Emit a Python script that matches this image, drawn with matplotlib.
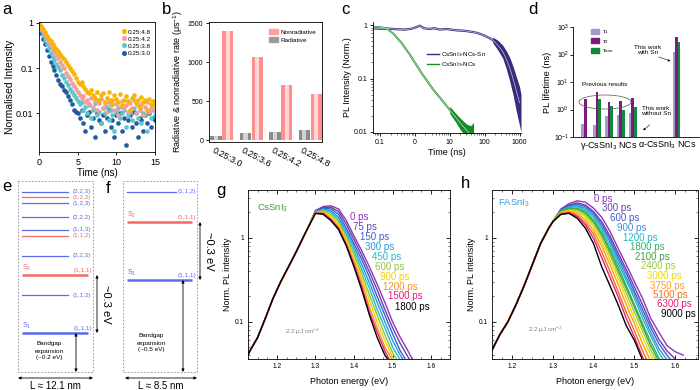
import numpy as np
import matplotlib
matplotlib.use("Agg")
import matplotlib.pyplot as plt
from matplotlib.patches import Ellipse, Patch, Rectangle
from matplotlib.lines import Line2D
from matplotlib.ticker import MultipleLocator, NullFormatter

plt.rcParams["font.family"] = ["Liberation Sans", "DejaVu Sans"]
plt.rcParams["mathtext.fontset"] = "custom"
plt.rcParams["mathtext.rm"] = "Liberation Sans"
plt.rcParams["mathtext.it"] = "Liberation Sans:italic"
plt.rcParams["mathtext.default"] = "regular"
plt.rcParams["axes.linewidth"] = 0.6
plt.rcParams["xtick.major.width"] = 0.6
plt.rcParams["ytick.major.width"] = 0.6
plt.rcParams["xtick.minor.width"] = 0.4
plt.rcParams["ytick.minor.width"] = 0.4

W, H = 700, 390

# ---------------- panel a: TRPL decays (scatter) ----------------
t_a = np.linspace(0, 15, 61)
a_labels = ["0.25:4.8", "0.25:4.2", "0.25:3.8", "0.25:3.0"]
a_colors = ["#f7b500", "#f59c9c", "#5cc6cc", "#1f5c9e"]
a_48 = [1.0, 0.85, 0.72, 0.62, 0.52, 0.45, 0.40, 0.35, 0.30, 0.27, 0.24, 0.21, 0.18, 0.16,
        0.14, 0.12, 0.10, 0.085, 0.075, 0.06, 0.05,
        0.045, 0.05, 0.04, 0.035, 0.03, 0.028, 0.033, 0.025, 0.022, 0.03, 0.02, 0.025, 0.028,
        0.018, 0.022, 0.03, 0.02, 0.016, 0.025, 0.021, 0.018, 0.027, 0.015, 0.02, 0.024, 0.019,
        0.012, 0.022, 0.026, 0.017, 0.02, 0.014, 0.023, 0.018, 0.02, 0.012, 0.021, 0.016, 0.019, 0.015]
a_42 = [0.95, 0.78, 0.64, 0.54, 0.45, 0.38, 0.32, 0.27, 0.23, 0.2, 0.17, 0.14, 0.12, 0.1,
        0.08, 0.068, 0.058, 0.048, 0.04, 0.034, 0.03,
        0.026, 0.022, 0.024, 0.018, 0.02, 0.016, 0.022, 0.014, 0.019, 0.012, 0.017, 0.021, 0.013,
        0.016, 0.011, 0.018, 0.015, 0.02, 0.012, 0.016, 0.009, 0.014, 0.019, 0.013, 0.015, 0.011,
        0.017, 0.013, 0.02, 0.01, 0.015, 0.012, 0.016, 0.009, 0.014, 0.018, 0.011, 0.013, 0.015, 0.012]
a_38 = [0.9, 0.7, 0.55, 0.44, 0.35, 0.28, 0.22, 0.18, 0.15, 0.125, 0.105, 0.09, 0.07, 0.06,
        0.05, 0.042, 0.035, 0.03, 0.025, 0.022, 0.019,
        0.016, 0.018, 0.012, 0.014, 0.01, 0.015, 0.008, 0.012, 0.017, 0.009, 0.011, 0.006, 0.013,
        0.01, 0.014, 0.007, 0.012, 0.009, 0.004, 0.011, 0.013, 0.008, 0.01, 0.012, 0.005, 0.009,
        0.011, 0.007, 0.013, 0.01, 0.008, 0.012, 0.006, 0.01, 0.009, 0.004, 0.011, 0.008, 0.012, 0.009]
a_30 = [0.8, 0.6, 0.45, 0.34, 0.25, 0.19, 0.14, 0.11, 0.09, 0.07, 0.054, 0.045, 0.04, 0.033,
        0.03, 0.024, 0.02, 0.016, 0.012, 0.011, 0.01,
        0.008, 0.012, 0.006, 0.004, 0.009, 0.011, 0.005, 0.008, 0.003, 0.01, 0.007, 0.006, 0.009,
        0.004, 0.008, 0.012, 0.005, 0.007, 0.003, 0.009, 0.006, 0.01, 0.004, 0.008, 0.002, 0.007,
        0.009, 0.005, 0.011, 0.006, 0.003, 0.008, 0.007, 0.004, 0.009, 0.006, 0.01, 0.005, 0.008, 0.007]

# ---------------- panel b: rates ----------------
b_cats = ["0.25:3.0", "0.25:3.6", "0.25:4.2", "0.25:4.8"]
b_nonrad = [1400, 1070, 705, 600]
b_rad = [55, 95, 110, 130]

# ---------------- panel c: PL decays ----------------
c_t_sn = [0.068, 0.1, 0.19, 0.3, 0.52, 0.8, 1.0, 1.4, 1.8, 2.6, 3.5, 5.2, 8, 16, 25, 43, 60,
          88, 120, 170, 240, 330, 420, 520, 650, 800, 1000]
c_i_sn = [0.87, 0.86, 0.86, 0.84, 0.83, 0.86, 0.9, 0.98, 0.88, 0.85, 0.88, 0.83, 0.85, 0.8,
          0.79, 0.75, 0.72, 0.66, 0.6, 0.53, 0.42, 0.32, 0.23, 0.16, 0.1, 0.06, 0.035]
c_tail_t = [170, 240, 330, 420, 520, 650, 800, 1000, 1100]
c_tail_hi = [0.6, 0.52, 0.42, 0.33, 0.25, 0.17, 0.11, 0.07, 0.05]
c_tail_lo = [0.47, 0.34, 0.24, 0.15, 0.09, 0.05, 0.025, 0.013, 0.01]
c_t_ns = [0.07, 0.089, 0.155, 0.24, 0.42, 0.72, 1.55, 3.3, 8.0, 19.3, 33.5, 45]
c_i_ns = [0.92, 0.93, 0.87, 0.70, 0.46, 0.28, 0.127, 0.063, 0.031, 0.015, 0.0099, 0.008]
c_gtail_t = [10, 15, 20, 30, 40, 48]
c_gtail_hi = [0.03, 0.022, 0.018, 0.014, 0.013, 0.015]
c_gtail_lo = [0.022, 0.015, 0.011, 0.008, 0.006, 0.006]

# ---------------- panel d: lifetimes ----------------
d_x = [0, 1, 2, 3, 4, 7.7]
d_tau1 = [0.3, 0.28, 0.6, 0.65, 0.75, 120]
d_tau2 = [2.5, 4.5, 1.9, 2.1, 2.7, 450]
d_tave = [np.nan, 2.5, 1.3, 0.95, 1.2, 280]

# ---------------- panels e, f: energy levels ----------------
e_y = [192, 197, 203, 217, 230, 236, 256, 275, 295, 333]
e_lbl = ["(2,2,3)", "(1,2,2)", "(1,2,3)", "(2,2,2)", "(1,1,3)", "(1,1,2)", "(2,2,3)",
         "(1,1,1)", "(1,1,2)", "(1,1,1)"]
e_red = [False, True, False, False, False, True, False, True, False, False]
e_state = ["", "", "", "", "", "", "", "S$_2$", "", "S$_1$"]
f_y = [192, 222, 280]
f_lbl = ["(1,1,2)", "(1,1,1)", "(1,1,1)"]
f_red = [False, True, False]
f_state = ["", "S$_2$", "S$_1$"]

# ---------------- panel g: CsSnI3 TA-PL spectra ----------------
g_rise_E = [1.125, 1.13, 1.15, 1.17, 1.19, 1.21, 1.23, 1.25, 1.27, 1.28]
g_rise_I = [0.04, 0.045, 0.065, 0.11, 0.19, 0.3, 0.45, 0.68, 1.05, 1.3]
g_fall_E = [1.30, 1.32, 1.34, 1.36, 1.38, 1.40, 1.42, 1.44, 1.46, 1.48, 1.50, 1.52, 1.54, 1.56]
g_delays = ["0 ps", "75 ps", "150 ps", "300 ps", "450 ps", "600 ps", "900 ps", "1200 ps",
            "1500 ps", "1800 ps"]
g_colors = ["#9333b8", "#6a3fa8", "#3d5fcf", "#2f96dc", "#1fbccc", "#8cc63f", "#f2d200",
            "#f7931e", "#ec1c79", "#000000"]
g_fall = [
    [2.10, 2.35, 2.40, 2.20, 1.60, 1.05, 0.70, 0.45, 0.28, 0.17, 0.10, 0.065, 0.045, 0.030],
    [2.10, 2.30, 2.30, 2.05, 1.45, 0.95, 0.62, 0.39, 0.24, 0.14, 0.085, 0.055, 0.038, 0.028],
    [2.05, 2.25, 2.20, 1.90, 1.30, 0.85, 0.55, 0.34, 0.20, 0.12, 0.072, 0.045, 0.032, 0.025],
    [2.05, 2.20, 2.10, 1.75, 1.20, 0.78, 0.48, 0.29, 0.17, 0.10, 0.060, 0.040, 0.028, 0.02],
    [2.00, 2.15, 2.00, 1.65, 1.10, 0.70, 0.42, 0.25, 0.14, 0.085, 0.050, 0.035, 0.025, 0.02],
    [2.00, 2.10, 1.90, 1.55, 1.02, 0.63, 0.37, 0.21, 0.12, 0.070, 0.043, 0.03, 0.02, 0.02],
    [2.00, 2.05, 1.80, 1.45, 0.95, 0.57, 0.33, 0.18, 0.10, 0.060, 0.038, 0.025, 0.02, 0.02],
    [2.00, 2.00, 1.70, 1.35, 0.88, 0.52, 0.29, 0.15, 0.085, 0.050, 0.035, 0.02, 0.02, 0.02],
    [1.95, 1.95, 1.65, 1.30, 0.82, 0.48, 0.26, 0.13, 0.075, 0.045, 0.030, 0.02, 0.02, 0.02],
    [1.95, 1.90, 1.60, 1.25, 0.80, 0.45, 0.24, 0.12, 0.065, 0.040, 0.030, 0.02, 0.02, 0.02],
]

# ---------------- panel h: FASnI3 TA-PL spectra ----------------
h_rise_E = [1.15, 1.17, 1.19, 1.21, 1.23, 1.25, 1.27, 1.29, 1.30]
h_rise_I = [0.045, 0.07, 0.1, 0.16, 0.27, 0.48, 0.85, 1.3, 1.55]
h_fall_E = [1.32, 1.34, 1.36, 1.38, 1.40, 1.42, 1.44, 1.46, 1.48, 1.50, 1.52, 1.54, 1.56,
            1.58, 1.60, 1.62]
h_delays = ["0 ps", "300 ps", "600 ps", "900 ps", "1200 ps", "1800 ps", "2100 ps", "2400 ps",
            "3000 ps", "3750 ps", "5100 ps", "6300 ps", "9000 ps"]
h_colors = ["#9333b8", "#6a3fa8", "#3d5fcf", "#3f8fdc", "#1fb8c8", "#2cb36a", "#3aa53a",
            "#9acd32", "#f2d600", "#f7a21b", "#f26d21", "#ec1c79", "#000000"]
h_fall = [
    [2.20, 2.55, 2.75, 2.65, 2.25, 1.75, 1.20, 0.75, 0.48, 0.30, 0.19, 0.11, 0.075, 0.052, 0.044, 0.040],
    [2.15, 2.45, 2.60, 2.45, 2.05, 1.55, 1.05, 0.66, 0.42, 0.26, 0.16, 0.095, 0.062, 0.045, 0.036, 0.03],
    [2.15, 2.40, 2.50, 2.35, 1.95, 1.45, 0.97, 0.60, 0.38, 0.23, 0.14, 0.085, 0.055, 0.04, 0.03, 0.025],
    [2.10, 2.35, 2.40, 2.25, 1.85, 1.35, 0.90, 0.55, 0.34, 0.21, 0.125, 0.075, 0.048, 0.035, 0.028, 0.02],
    [2.10, 2.30, 2.35, 2.15, 1.75, 1.25, 0.82, 0.50, 0.31, 0.19, 0.11, 0.068, 0.043, 0.03, 0.024, 0.02],
    [2.05, 2.25, 2.25, 2.05, 1.62, 1.15, 0.74, 0.45, 0.27, 0.16, 0.095, 0.058, 0.037, 0.027, 0.02, 0.018],
    [2.05, 2.20, 2.20, 1.95, 1.55, 1.08, 0.68, 0.41, 0.25, 0.15, 0.088, 0.052, 0.034, 0.025, 0.02, 0.018],
    [2.00, 2.15, 2.10, 1.85, 1.45, 1.00, 0.62, 0.37, 0.22, 0.13, 0.078, 0.046, 0.03, 0.022, 0.018, 0.015],
    [2.00, 2.10, 2.05, 1.78, 1.35, 0.90, 0.55, 0.33, 0.19, 0.11, 0.066, 0.04, 0.026, 0.02, 0.015, 0.012],
    [1.95, 2.05, 1.95, 1.65, 1.22, 0.80, 0.48, 0.28, 0.16, 0.095, 0.055, 0.034, 0.022, 0.016, 0.012, 0.01],
    [1.95, 2.00, 1.85, 1.52, 1.10, 0.68, 0.40, 0.23, 0.13, 0.078, 0.045, 0.028, 0.018, 0.013, 0.01, 0.01],
    [1.90, 1.98, 1.78, 1.42, 0.98, 0.58, 0.34, 0.20, 0.11, 0.066, 0.038, 0.024, 0.016, 0.012, 0.01, 0.01],
    [1.90, 1.95, 1.70, 1.30, 0.85, 0.45, 0.27, 0.16, 0.09, 0.06, 0.035, 0.02, 0.015, 0.012, 0.01, 0.01],
]

fig = plt.figure(figsize=(7, 3.9), dpi=100)


def add_ax(left, top, right, bottom):
    # axes placed by pixel box of the 700x390 canvas
    return fig.add_axes([left / W, 1 - bottom / H, (right - left) / W, (bottom - top) / H])


def ftext(x, y, s, **kw):
    fig.text(x / W, 1 - y / H, s, **kw)


for letter, (x, y) in {"a": (2, 9), "b": (162, 9), "c": (341, 9), "d": (528, 9),
                       "e": (2, 186), "f": (106, 188), "g": (216, 190), "h": (461, 183)}.items():
    ftext(x, y, letter, fontsize=12, va="center")

# ---- a ----
ax = add_ax(39, 22, 155, 152)
for vals, c in reversed(list(zip([a_48, a_42, a_38, a_30], a_colors))):
    ax.plot(t_a, vals, "o", ms=3.1, mfc=c, mec=c, mew=0.2)
ax.set_yscale("log")
ax.set_ylim(0.0014, 1.05)
ax.set_xlim(0, 15)
ax.set_xticks([0, 5, 10, 15])
ax.set_yticks([0.01, 0.1, 1])
ax.set_yticklabels(["0.01", "0.1", "1"])
ax.yaxis.set_minor_formatter(NullFormatter())
ax.tick_params(labelsize=6.5, length=2, pad=2)
ax.tick_params(which="minor", length=0)
ax.set_xlabel("Time (ns)", fontsize=7, labelpad=1)
ax.set_ylabel("Normalised Intensity", fontsize=7.5, labelpad=1)
handles = [Line2D([], [], marker="o", ls="", ms=2.6, color=c) for c in a_colors]
ax.legend(handles, a_labels, loc="upper right", bbox_to_anchor=(1.0, 0.98), fontsize=4.6,
          frameon=False, handletextpad=0.1, labelspacing=0.25, borderpad=0.2, handlelength=1)

# ---- b ----
ax = add_ax(209, 22, 322, 142)
xb = np.arange(len(b_cats))
ax.bar(xb - 0.2, b_rad, 0.38, color="#8a8a8a", lw=0)
ax.bar(xb - 0.2, b_rad, 0.14, color="#d2d2d2", lw=0)
ax.bar(xb + 0.2, b_nonrad, 0.38, color="#ff8e8e", lw=0)
ax.bar(xb + 0.2, b_nonrad, 0.14, color="#ffd6d6", lw=0)
ax.set_xlim(-0.44, 3.4)
ax.set_ylim(-20, 1515)
ax.set_yticks([0, 500, 1000, 1500])
ax.set_xticks(xb - 0.25)
ax.set_xticklabels(b_cats, rotation=-28, ha="left", rotation_mode="anchor", fontsize=6.5)
ax.tick_params(axis="x", length=0, pad=3)
ax.tick_params(axis="y", labelsize=5, length=2, pad=2)
ax.set_ylabel("Radiative & nonradiative rate (μs$^{-1}$)", fontsize=6.5, labelpad=2)
ax.legend([Patch(color="#ff9c9c"), Patch(color="#9a9a9a")], ["Nonradiative", "Radiative"],
          loc="upper right", bbox_to_anchor=(1.0, 0.99), fontsize=4.6, frameon=False,
          handlelength=1.4, handleheight=0.9, handletextpad=0.4, labelspacing=0.3)

# ---- c ----
ax = add_ax(373, 22, 521, 133)
purple, green = "#3b2a7c", "#158a2a"
ax.plot(c_t_sn, c_i_sn, color=purple, lw=1.6)
ax.fill_between(c_tail_t, c_tail_lo, c_tail_hi, color=purple, lw=0)
ax.plot(c_t_ns, c_i_ns, color=green, lw=1.4)
ax.fill_between(c_gtail_t, c_gtail_lo, c_gtail_hi, color=green, lw=0)
ax.plot(c_t_sn, c_i_sn, color="#c9c4e8", lw=0.5)
ax.plot(c_t_ns, c_i_ns, color="#bfe8c4", lw=0.5)
ax.set_xscale("log")
ax.set_yscale("log")
ax.set_xlim(0.063, 1100)
ax.set_ylim(0.0095, 1.15)
ax.set_xticks([0.1, 1, 10, 100, 1000])
ax.set_xticklabels(["0.1", "0", "10", "100", "1000"])
ax.set_yticks([0.01, 0.1, 1])
ax.set_yticklabels(["0.01", "0.1", "1"])
ax.xaxis.set_minor_formatter(NullFormatter())
ax.yaxis.set_minor_formatter(NullFormatter())
ax.tick_params(labelsize=5, length=2, pad=2)
ax.tick_params(which="minor", length=1.2)
for s in ["top", "right"]:
    ax.spines[s].set_visible(False)
ax.set_xlabel("Time (ns)", fontsize=6.5, labelpad=2)
ax.set_ylabel("PL Intensity (Norm.)", fontsize=6.5, labelpad=1)
ax.legend([Line2D([], [], color=purple, lw=1), Line2D([], [], color=green, lw=1)],
          ["CsSnI$_3$-NCs-Sn", "CsSnI$_3$-NCs"], loc="upper left", bbox_to_anchor=(0.33, 0.8),
          fontsize=4.5, frameon=False, handlelength=1.8, labelspacing=0.2, handletextpad=0.4)

# ---- d ----
ax = add_ax(573, 27, 699, 137)
dx = np.array(d_x)
bw = 0.22
c1, c2, c3 = "#9f9ac6", "#7d1a7e", "#0f8a3c"
ax.bar(dx - bw, d_tau1, bw, color=c1, lw=0)
ax.bar(dx, d_tau2, bw, color=c2, lw=0)
ax.bar(dx + bw, d_tave, bw, color=c3, lw=0)
ax.set_yscale("log")
ax.set_ylim(0.1, 1000)
ax.set_xlim(-1.03, 9.6)
ax.set_yticks([0.1, 1, 10, 100, 1000])
ax.set_yticklabels(["10$^{-1}$", "10$^0$", "10$^1$", "10$^2$", "10$^3$"])
ax.yaxis.set_minor_formatter(NullFormatter())
ax.tick_params(which="minor", length=0)
ax.set_xticks([2.0, 6.95])
ax.set_xticklabels(["γ-CsSnI$_3$ NCs", "α-CsSnI$_3$ NCs"], fontsize=6.5)
ax.tick_params(axis="x", length=0, pad=2)
ax.tick_params(axis="y", labelsize=5, length=2, pad=1)
for s in ["top", "right"]:
    ax.spines[s].set_visible(False)
ax.set_ylabel("PL lifetime (ns)", fontsize=6.6, labelpad=1)
ax.legend([Patch(color=c1), Patch(color=c2), Patch(color=c3)],
          ["τ$_1$", "τ$_2$", "τ$_{ave}$"], loc="upper left", bbox_to_anchor=(0.1, 1.04),
          fontsize=4.6, frameon=False, handlelength=1.2, handleheight=0.8,
          handletextpad=0.5, labelspacing=0.25)
ax.add_patch(Ellipse((605 / W, 1 - 102 / H), 52 / W, 14 / H, transform=fig.transFigure,
                     fill=False, lw=0.5, ec="#555555", clip_on=False))
ftext(605, 84, "Previous results", fontsize=4.6, ha="center", va="center")
ftext(648, 50, "This work\nwith Sn", fontsize=4.6, ha="center", va="center", linespacing=1.1)
ftext(656, 111, "This work\nwithout Sn", fontsize=4.6, ha="center", va="center", linespacing=1.1)
ax.annotate("", xy=(673, H - 62), xytext=(656, H - 56), xycoords="figure pixels",
            arrowprops=dict(arrowstyle="-|>", lw=0.4, color="k", mutation_scale=3))
ax.annotate("", xy=(641, H - 132), xytext=(652, H - 123), xycoords="figure pixels",
            arrowprops=dict(arrowstyle="-|>", lw=0.4, color="k", mutation_scale=3))

# ---- e, f (energy-level schemes, drawn in canvas pixel units) ----
ax = add_ax(0, 178, 230, 390)
ax.set_xlim(0, 230)
ax.set_ylim(390, 178)
ax.axis("off")
blue_l, red_l = "#5a6cf0", "#f06a6a"
ax.add_patch(Rectangle((18, 181), 75, 191, fill=False, ls=(0, (2, 2)), lw=0.6, ec="#8c8c8c"))
ax.add_patch(Rectangle((123, 181), 74, 191, fill=False, ls=(0, (2, 2)), lw=0.6, ec="#8c8c8c"))


def draw_levels(ys, lbls, reds, states, x0, x_thin, x_thick, x_lab):
    for y, lb, red, st in zip(ys, lbls, reds, states):
        col = red_l if red else blue_l
        if st:
            ax.plot([x0, x_thick], [y, y], color=col, lw=1.8, solid_capstyle="butt")
            ax.text(x0, y - 2, st, color=col, fontsize=5, va="bottom")
            ax.text(x_thick + 4, y - 2, lb, color=col, fontsize=4.6, va="bottom", ha="right")
        else:
            ax.plot([x0, x_thin], [y, y], color=col, lw=0.9)
            ax.text(x_lab, y, lb, color=col, fontsize=4.6, va="center")


draw_levels(e_y, e_lbl, e_red, e_state, 22, 68, 88, 73)
draw_levels(f_y, f_lbl, f_red, f_state, 127, 176, 192, 178)

arr = dict(arrowstyle="<|-|>", lw=0.6, color="k", mutation_scale=4, shrinkA=0, shrinkB=0)
ax.annotate("", xy=(97, e_y[7]), xytext=(97, e_y[9]), arrowprops=arr)
ax.annotate("", xy=(76, e_y[9]), xytext=(76, 372), arrowprops=arr)
ax.annotate("", xy=(18, 378), xytext=(93, 378), arrowprops=arr)
ax.annotate("", xy=(200, f_y[1]), xytext=(200, f_y[2]), arrowprops=arr)
ax.annotate("", xy=(183, f_y[2]), xytext=(183, 372), arrowprops=arr)
ax.annotate("", xy=(125, 378), xytext=(197, 378), arrowprops=arr)
ax.text(106, (e_y[7] + e_y[9]) / 2, "~0.3 eV", rotation=-90, fontsize=8, ha="center", va="center")
ax.text(209, (f_y[1] + f_y[2]) / 2, "~0.3 eV", rotation=-90, fontsize=8, ha="center", va="center")
ax.text(49, 351, "Bandgap\nexpansion\n(~0.2 eV)", fontsize=4.6, ha="center", va="center",
        linespacing=1.5)
ax.text(151, 343, "Bandgap\nexpansion\n(~0.5 eV)", fontsize=4.6, ha="center", va="center",
        linespacing=1.5)
ax.text(55, 386, "L ≈ 12.1 nm", fontsize=7, ha="center", va="center")
ax.text(161, 386, "L ≈ 8.5 nm", fontsize=7, ha="center", va="center")


# ---- g, h ----
def spectra_axes(box, rise_E, rise_I, fall_E, fall, colors, xlim, tag, tag_col, tag_xy,
                 flu_xy, delays, lab_pos, lab_fs):
    ax = add_ax(*box)
    for vals, c in zip(fall, colors):
        ax.plot(list(rise_E) + list(fall_E), list(rise_I) + list(vals), color=c, lw=1.0)
    ax.set_yscale("log")
    ax.set_ylim(0.036, 3.7)
    ax.set_xlim(*xlim)
    ax.set_xticks([1.2, 1.3, 1.4, 1.5, 1.6])
    ax.xaxis.set_minor_locator(MultipleLocator(0.025))
    ax.set_yticks([0.1, 1])
    ax.set_yticklabels(["0.1", "1"])
    ax.yaxis.set_minor_formatter(NullFormatter())
    ax.tick_params(which="both", direction="in", top=True, right=True, labelsize=4.8, pad=3)
    ax.tick_params(which="major", length=3)
    ax.tick_params(which="minor", length=1.6)
    ax.set_xlabel("Photon energy (eV)", fontsize=6.5, labelpad=5)
    ax.set_ylabel("Norm. PL intensity", fontsize=6.5, labelpad=2)
    ftext(*tag_xy, tag, color=tag_col, fontsize=6.8, va="center")
    ftext(*flu_xy, "2.2 μJ cm$^{-2}$", color="#808080", fontsize=4.6, ha="center", va="center")
    for s, c, (x, y) in zip(delays, colors, lab_pos):
        ftext(x, y, s, color=c, fontsize=lab_fs, va="center")


g_lab_pos = [(350, 217), (353, 227), (360, 237), (365, 247), (372, 257), (375, 267),
             (380, 277), (383, 287), (388, 296), (395, 307)]
h_lab_pos = [(594, 199), (602, 208), (610, 218), (617, 228), (623, 238), (630, 247),
             (635, 257), (641, 266), (647, 276), (650, 286), (653, 295), (657, 304), (661, 314)]
spectra_axes((248, 190, 450, 359), g_rise_E, g_rise_I, g_fall_E, g_fall, g_colors,
             (1.125, 1.649), "CsSnI$_3$", "#3a9a3a", (257, 208), (302, 332), g_delays,
             g_lab_pos, 7)
spectra_axes((492, 190, 698, 359), h_rise_E, h_rise_I, h_fall_E, h_fall, h_colors,
             (1.151, 1.656), "FASnI$_3$", "#3c9ad8", (498, 203), (545, 330), h_delays,
             h_lab_pos, 7)

fig.savefig("out.png", dpi=100)
